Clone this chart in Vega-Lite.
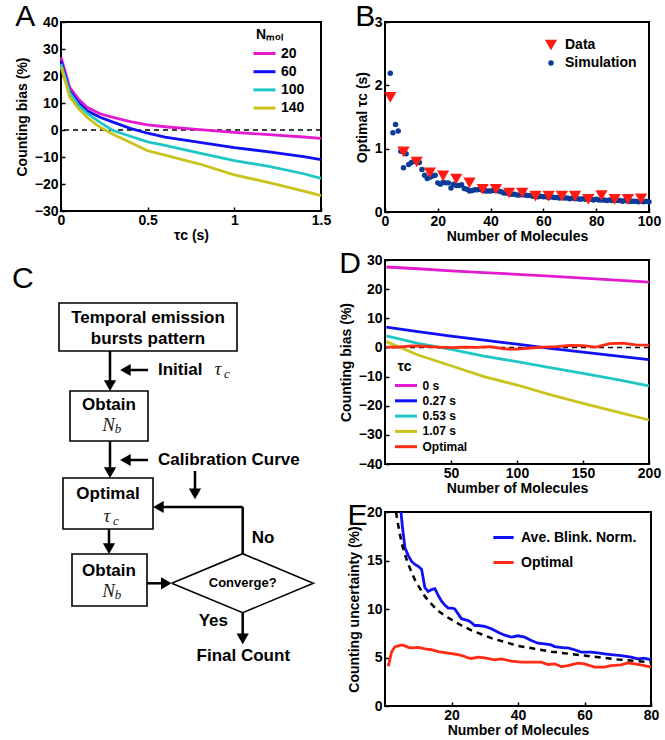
{
 "$schema": "https://vega.github.io/schema/vega-lite/v6.json",
 "background": "white",
 "padding": {"left": 12, "top": 1, "right": 4, "bottom": 0},
 "config": {
  "font": "Liberation Sans",
  "view": {"stroke": "black", "strokeWidth": 2},
  "axis": {"grid": false, "domain": false, "labelOverlap": false, "labelFont": "Liberation Sans", "labelFontSize": 14, "labelFontWeight": "bold", "labelColor": "black", "titleFont": "Liberation Sans", "titleFontSize": 14, "titleFontWeight": "bold", "titleColor": "black", "tickColor": "black", "tickSize": -4, "tickWidth": 1.5, "labelPadding": 7, "titlePadding": 4},
  "axisX": {"labelFlush": false, "titlePadding": 1, "labelPadding": 6},
  "axisY": {"titlePadding": 5},
  "legend": {"labelFont": "Liberation Sans", "labelFontSize": 14, "labelFontWeight": "bold", "labelColor": "black", "titleFont": "Liberation Sans", "titleFontSize": 14, "titleFontWeight": "bold", "titleColor": "black", "padding": 0, "labelOffset": 8, "titlePadding": 3, "rowPadding": 2.2},
  "title": {"anchor": "start", "frame": "bounds", "font": "Liberation Sans", "fontSize": 30, "fontWeight": "normal", "color": "black", "baseline": "top", "offset": -17}
 },
 "resolve": {"scale": {"color": "independent", "shape": "independent", "size": "independent"}},
 "datasets": {
  "A": [
   {"tau":0,"bias":27,"N":"20"},{"tau":0.05,"bias":15.8,"N":"20"},{"tau":0.1,"bias":11.5,"N":"20"},{"tau":0.15,"bias":8.4,"N":"20"},{"tau":0.225,"bias":6,"N":"20"},{"tau":0.3,"bias":4.7,"N":"20"},{"tau":0.4,"bias":3.1,"N":"20"},{"tau":0.5,"bias":1.9,"N":"20"},{"tau":0.6,"bias":1.2,"N":"20"},{"tau":0.8,"bias":0.1,"N":"20"},{"tau":1.0,"bias":-0.9,"N":"20"},{"tau":1.2,"bias":-1.7,"N":"20"},{"tau":1.4,"bias":-2.6,"N":"20"},{"tau":1.5,"bias":-3.1,"N":"20"},
   {"tau":0,"bias":25.5,"N":"60"},{"tau":0.05,"bias":14.5,"N":"60"},{"tau":0.1,"bias":10.2,"N":"60"},{"tau":0.15,"bias":7.1,"N":"60"},{"tau":0.225,"bias":4.7,"N":"60"},{"tau":0.3,"bias":2.9,"N":"60"},{"tau":0.4,"bias":0.6,"N":"60"},{"tau":0.5,"bias":-1.2,"N":"60"},{"tau":0.6,"bias":-2.6,"N":"60"},{"tau":0.8,"bias":-4.6,"N":"60"},{"tau":1.0,"bias":-6.5,"N":"60"},{"tau":1.2,"bias":-8.1,"N":"60"},{"tau":1.4,"bias":-9.9,"N":"60"},{"tau":1.5,"bias":-11,"N":"60"},
   {"tau":0,"bias":24.5,"N":"100"},{"tau":0.05,"bias":13.9,"N":"100"},{"tau":0.1,"bias":9.2,"N":"100"},{"tau":0.15,"bias":6.2,"N":"100"},{"tau":0.225,"bias":2.8,"N":"100"},{"tau":0.3,"bias":-0.2,"N":"100"},{"tau":0.4,"bias":-2.3,"N":"100"},{"tau":0.5,"bias":-4.4,"N":"100"},{"tau":0.6,"bias":-5.7,"N":"100"},{"tau":0.8,"bias":-8.6,"N":"100"},{"tau":1.0,"bias":-11.3,"N":"100"},{"tau":1.2,"bias":-13.5,"N":"100"},{"tau":1.4,"bias":-16.2,"N":"100"},{"tau":1.5,"bias":-17.9,"N":"100"},
   {"tau":0,"bias":23.5,"N":"140"},{"tau":0.05,"bias":12.3,"N":"140"},{"tau":0.1,"bias":8.0,"N":"140"},{"tau":0.15,"bias":4.7,"N":"140"},{"tau":0.225,"bias":1.0,"N":"140"},{"tau":0.3,"bias":-1.6,"N":"140"},{"tau":0.4,"bias":-4.6,"N":"140"},{"tau":0.5,"bias":-7.7,"N":"140"},{"tau":0.6,"bias":-9.3,"N":"140"},{"tau":0.8,"bias":-12.6,"N":"140"},{"tau":1.0,"bias":-16.6,"N":"140"},{"tau":1.2,"bias":-19.5,"N":"140"},{"tau":1.4,"bias":-22.6,"N":"140"},{"tau":1.5,"bias":-24.3,"N":"140"}
  ],
  "B": [
   {"n":2,"v":2.19,"s":"Simulation"},{"n":3,"v":1.25,"s":"Simulation"},{"n":4,"v":1.38,"s":"Simulation"},{"n":5,"v":1.28,"s":"Simulation"},{"n":6,"v":0.96,"s":"Simulation"},{"n":7,"v":0.70,"s":"Simulation"},{"n":8,"v":0.92,"s":"Simulation"},{"n":9,"v":0.75,"s":"Simulation"},{"n":10,"v":0.78,"s":"Simulation"},{"n":11,"v":0.80,"s":"Simulation"},{"n":12,"v":0.80,"s":"Simulation"},{"n":13,"v":0.78,"s":"Simulation"},{"n":14,"v":0.67,"s":"Simulation"},{"n":15,"v":0.58,"s":"Simulation"},{"n":16,"v":0.53,"s":"Simulation"},{"n":17,"v":0.55,"s":"Simulation"},{"n":18,"v":0.57,"s":"Simulation"},{"n":19,"v":0.58,"s":"Simulation"},{"n":20,"v":0.46,"s":"Simulation"},
   {"n":21,"v":0.44,"s":"Simulation"},{"n":22,"v":0.47,"s":"Simulation"},{"n":23,"v":0.46,"s":"Simulation"},{"n":24,"v":0.46,"s":"Simulation"},{"n":25,"v":0.38,"s":"Simulation"},{"n":26,"v":0.44,"s":"Simulation"},{"n":27,"v":0.42,"s":"Simulation"},{"n":28,"v":0.42,"s":"Simulation"},{"n":29,"v":0.43,"s":"Simulation"},{"n":30,"v":0.37,"s":"Simulation"},{"n":31,"v":0.36,"s":"Simulation"},{"n":32,"v":0.33,"s":"Simulation"},{"n":33,"v":0.34,"s":"Simulation"},{"n":34,"v":0.35,"s":"Simulation"},{"n":35,"v":0.35,"s":"Simulation"},{"n":36,"v":0.36,"s":"Simulation"},{"n":37,"v":0.34,"s":"Simulation"},{"n":38,"v":0.33,"s":"Simulation"},{"n":39,"v":0.33,"s":"Simulation"},{"n":40,"v":0.33,"s":"Simulation"},
   {"n":41,"v":0.34,"s":"Simulation"},{"n":42,"v":0.35,"s":"Simulation"},{"n":43,"v":0.33,"s":"Simulation"},{"n":44,"v":0.32,"s":"Simulation"},{"n":45,"v":0.30,"s":"Simulation"},{"n":46,"v":0.30,"s":"Simulation"},{"n":47,"v":0.29,"s":"Simulation"},{"n":48,"v":0.28,"s":"Simulation"},{"n":49,"v":0.28,"s":"Simulation"},{"n":50,"v":0.27,"s":"Simulation"},{"n":51,"v":0.27,"s":"Simulation"},{"n":52,"v":0.28,"s":"Simulation"},{"n":53,"v":0.27,"s":"Simulation"},{"n":54,"v":0.26,"s":"Simulation"},{"n":55,"v":0.26,"s":"Simulation"},{"n":56,"v":0.25,"s":"Simulation"},{"n":57,"v":0.25,"s":"Simulation"},{"n":58,"v":0.24,"s":"Simulation"},{"n":59,"v":0.25,"s":"Simulation"},{"n":60,"v":0.24,"s":"Simulation"},
   {"n":61,"v":0.24,"s":"Simulation"},{"n":62,"v":0.23,"s":"Simulation"},{"n":63,"v":0.24,"s":"Simulation"},{"n":64,"v":0.23,"s":"Simulation"},{"n":65,"v":0.23,"s":"Simulation"},{"n":66,"v":0.22,"s":"Simulation"},{"n":67,"v":0.23,"s":"Simulation"},{"n":68,"v":0.22,"s":"Simulation"},{"n":69,"v":0.22,"s":"Simulation"},{"n":70,"v":0.21,"s":"Simulation"},{"n":71,"v":0.22,"s":"Simulation"},{"n":72,"v":0.21,"s":"Simulation"},{"n":73,"v":0.21,"s":"Simulation"},{"n":74,"v":0.20,"s":"Simulation"},{"n":75,"v":0.21,"s":"Simulation"},{"n":76,"v":0.20,"s":"Simulation"},{"n":77,"v":0.20,"s":"Simulation"},{"n":78,"v":0.20,"s":"Simulation"},{"n":79,"v":0.19,"s":"Simulation"},{"n":80,"v":0.20,"s":"Simulation"},
   {"n":81,"v":0.19,"s":"Simulation"},{"n":82,"v":0.19,"s":"Simulation"},{"n":83,"v":0.19,"s":"Simulation"},{"n":84,"v":0.18,"s":"Simulation"},{"n":85,"v":0.19,"s":"Simulation"},{"n":86,"v":0.18,"s":"Simulation"},{"n":87,"v":0.18,"s":"Simulation"},{"n":88,"v":0.18,"s":"Simulation"},{"n":89,"v":0.18,"s":"Simulation"},{"n":90,"v":0.17,"s":"Simulation"},{"n":91,"v":0.18,"s":"Simulation"},{"n":92,"v":0.17,"s":"Simulation"},{"n":93,"v":0.17,"s":"Simulation"},{"n":94,"v":0.17,"s":"Simulation"},{"n":95,"v":0.17,"s":"Simulation"},{"n":96,"v":0.16,"s":"Simulation"},{"n":97,"v":0.17,"s":"Simulation"},{"n":98,"v":0.16,"s":"Simulation"},{"n":99,"v":0.17,"s":"Simulation"},{"n":100,"v":0.16,"s":"Simulation"},
   {"n":2,"v":1.81,"s":"Data"},{"n":7,"v":0.95,"s":"Data"},{"n":12,"v":0.79,"s":"Data"},{"n":17,"v":0.62,"s":"Data"},{"n":22,"v":0.57,"s":"Data"},{"n":27,"v":0.52,"s":"Data"},{"n":32,"v":0.46,"s":"Data"},{"n":37,"v":0.36,"s":"Data"},{"n":42,"v":0.36,"s":"Data"},{"n":47,"v":0.30,"s":"Data"},{"n":52,"v":0.30,"s":"Data"},{"n":57,"v":0.25,"s":"Data"},{"n":62,"v":0.25,"s":"Data"},{"n":67,"v":0.25,"s":"Data"},{"n":72,"v":0.25,"s":"Data"},{"n":77,"v":0.20,"s":"Data"},{"n":82,"v":0.26,"s":"Data"},{"n":87,"v":0.20,"s":"Data"},{"n":92,"v":0.20,"s":"Data"},{"n":97,"v":0.21,"s":"Data"}
  ],
  "D": [
   {"n":1,"bias":27.6,"s":"0 s"},{"n":25,"bias":27.0,"s":"0 s"},{"n":50,"bias":26.3,"s":"0 s"},{"n":75,"bias":25.7,"s":"0 s"},{"n":100,"bias":25.1,"s":"0 s"},{"n":125,"bias":24.5,"s":"0 s"},{"n":150,"bias":23.8,"s":"0 s"},{"n":175,"bias":23.1,"s":"0 s"},{"n":200,"bias":22.4,"s":"0 s"},
   {"n":1,"bias":7.0,"s":"0.27 s"},{"n":25,"bias":5.4,"s":"0.27 s"},{"n":50,"bias":3.9,"s":"0.27 s"},{"n":75,"bias":2.5,"s":"0.27 s"},{"n":100,"bias":1.1,"s":"0.27 s"},{"n":125,"bias":-0.3,"s":"0.27 s"},{"n":150,"bias":-1.6,"s":"0.27 s"},{"n":175,"bias":-2.9,"s":"0.27 s"},{"n":200,"bias":-4.2,"s":"0.27 s"},
   {"n":1,"bias":4.0,"s":"0.53 s"},{"n":25,"bias":1.4,"s":"0.53 s"},{"n":50,"bias":-0.7,"s":"0.53 s"},{"n":75,"bias":-3.0,"s":"0.53 s"},{"n":100,"bias":-4.9,"s":"0.53 s"},{"n":125,"bias":-6.9,"s":"0.53 s"},{"n":150,"bias":-8.9,"s":"0.53 s"},{"n":175,"bias":-11.0,"s":"0.53 s"},{"n":200,"bias":-13.2,"s":"0.53 s"},
   {"n":1,"bias":2.0,"s":"1.07 s"},{"n":25,"bias":-2.6,"s":"1.07 s"},{"n":50,"bias":-6.3,"s":"1.07 s"},{"n":75,"bias":-10.0,"s":"1.07 s"},{"n":100,"bias":-12.9,"s":"1.07 s"},{"n":125,"bias":-16.2,"s":"1.07 s"},{"n":150,"bias":-19.2,"s":"1.07 s"},{"n":175,"bias":-22.0,"s":"1.07 s"},{"n":200,"bias":-24.9,"s":"1.07 s"},
   {"n":1,"bias":0.1,"s":"Optimal"},{"n":10,"bias":0.1,"s":"Optimal"},{"n":20,"bias":0.5,"s":"Optimal"},{"n":30,"bias":0.4,"s":"Optimal"},{"n":40,"bias":0.1,"s":"Optimal"},{"n":50,"bias":-0.1,"s":"Optimal"},{"n":60,"bias":0.1,"s":"Optimal"},{"n":70,"bias":0.0,"s":"Optimal"},{"n":80,"bias":0.3,"s":"Optimal"},{"n":90,"bias":-0.5,"s":"Optimal"},{"n":100,"bias":-0.6,"s":"Optimal"},{"n":110,"bias":-0.2,"s":"Optimal"},{"n":120,"bias":0.1,"s":"Optimal"},{"n":130,"bias":0.3,"s":"Optimal"},{"n":140,"bias":0.7,"s":"Optimal"},{"n":150,"bias":0.6,"s":"Optimal"},{"n":160,"bias":0.1,"s":"Optimal"},{"n":170,"bias":1.3,"s":"Optimal"},{"n":180,"bias":1.5,"s":"Optimal"},{"n":190,"bias":0.9,"s":"Optimal"},{"n":200,"bias":0.8,"s":"Optimal"}
  ],
  "E": [
   {"n":4.8,"u":20,"s":"Ave. Blink. Norm."},{"n":5.2,"u":18.6,"s":"Ave. Blink. Norm."},{"n":6,"u":16.3,"s":"Ave. Blink. Norm."},{"n":7,"u":15.5,"s":"Ave. Blink. Norm."},{"n":8,"u":14.9,"s":"Ave. Blink. Norm."},{"n":9,"u":14.6,"s":"Ave. Blink. Norm."},{"n":10,"u":14.4,"s":"Ave. Blink. Norm."},{"n":11,"u":14.1,"s":"Ave. Blink. Norm."},{"n":12,"u":12.2,"s":"Ave. Blink. Norm."},{"n":13,"u":11.8,"s":"Ave. Blink. Norm."},{"n":14,"u":12.0,"s":"Ave. Blink. Norm."},{"n":15,"u":12.1,"s":"Ave. Blink. Norm."},{"n":16,"u":11.4,"s":"Ave. Blink. Norm."},{"n":17,"u":10.8,"s":"Ave. Blink. Norm."},{"n":18,"u":10.4,"s":"Ave. Blink. Norm."},{"n":19,"u":10.1,"s":"Ave. Blink. Norm."},{"n":20,"u":10.1,"s":"Ave. Blink. Norm."},{"n":21,"u":10.0,"s":"Ave. Blink. Norm."},{"n":22,"u":9.5,"s":"Ave. Blink. Norm."},{"n":23,"u":9.0,"s":"Ave. Blink. Norm."},{"n":24,"u":8.9,"s":"Ave. Blink. Norm."},{"n":25,"u":8.8,"s":"Ave. Blink. Norm."},{"n":26,"u":8.6,"s":"Ave. Blink. Norm."},{"n":27,"u":8.3,"s":"Ave. Blink. Norm."},{"n":28,"u":8.3,"s":"Ave. Blink. Norm."},{"n":30,"u":8.2,"s":"Ave. Blink. Norm."},{"n":32,"u":7.96,"s":"Ave. Blink. Norm."},{"n":34,"u":7.6,"s":"Ave. Blink. Norm."},{"n":36,"u":7.3,"s":"Ave. Blink. Norm."},{"n":38,"u":7.1,"s":"Ave. Blink. Norm."},{"n":40,"u":7.24,"s":"Ave. Blink. Norm."},{"n":42,"u":7.1,"s":"Ave. Blink. Norm."},{"n":44,"u":6.75,"s":"Ave. Blink. Norm."},{"n":46,"u":6.47,"s":"Ave. Blink. Norm."},{"n":48,"u":6.41,"s":"Ave. Blink. Norm."},{"n":50,"u":6.3,"s":"Ave. Blink. Norm."},{"n":51,"u":6.13,"s":"Ave. Blink. Norm."},{"n":54,"u":6.0,"s":"Ave. Blink. Norm."},{"n":55,"u":6.0,"s":"Ave. Blink. Norm."},{"n":57,"u":5.8,"s":"Ave. Blink. Norm."},{"n":59,"u":5.55,"s":"Ave. Blink. Norm."},{"n":62,"u":5.55,"s":"Ave. Blink. Norm."},{"n":64,"u":5.48,"s":"Ave. Blink. Norm."},{"n":66,"u":5.38,"s":"Ave. Blink. Norm."},{"n":68,"u":5.3,"s":"Ave. Blink. Norm."},{"n":71,"u":5.2,"s":"Ave. Blink. Norm."},{"n":74,"u":5.03,"s":"Ave. Blink. Norm."},{"n":76,"u":4.86,"s":"Ave. Blink. Norm."},{"n":78,"u":4.93,"s":"Ave. Blink. Norm."},{"n":80,"u":4.76,"s":"Ave. Blink. Norm."},
   {"n":1,"u":4.1,"s":"Optimal"},{"n":2,"u":5.6,"s":"Optimal"},{"n":3,"u":6.1,"s":"Optimal"},{"n":4,"u":6.2,"s":"Optimal"},{"n":5,"u":6.3,"s":"Optimal"},{"n":6,"u":6.2,"s":"Optimal"},{"n":7,"u":6.05,"s":"Optimal"},{"n":8,"u":6.0,"s":"Optimal"},{"n":10,"u":6.05,"s":"Optimal"},{"n":12,"u":5.9,"s":"Optimal"},{"n":14,"u":5.8,"s":"Optimal"},{"n":16,"u":5.6,"s":"Optimal"},{"n":18,"u":5.5,"s":"Optimal"},{"n":20,"u":5.4,"s":"Optimal"},{"n":22,"u":5.3,"s":"Optimal"},{"n":24,"u":5.1,"s":"Optimal"},{"n":25,"u":4.95,"s":"Optimal"},{"n":26,"u":4.9,"s":"Optimal"},{"n":28,"u":5.03,"s":"Optimal"},{"n":30,"u":4.97,"s":"Optimal"},{"n":33,"u":4.76,"s":"Optimal"},{"n":35,"u":4.86,"s":"Optimal"},{"n":38,"u":4.62,"s":"Optimal"},{"n":41,"u":4.52,"s":"Optimal"},{"n":44,"u":4.52,"s":"Optimal"},{"n":47,"u":4.52,"s":"Optimal"},{"n":49,"u":4.28,"s":"Optimal"},{"n":51,"u":4.35,"s":"Optimal"},{"n":53,"u":4.07,"s":"Optimal"},{"n":55,"u":4.17,"s":"Optimal"},{"n":58,"u":4.41,"s":"Optimal"},{"n":60,"u":4.35,"s":"Optimal"},{"n":63,"u":4.0,"s":"Optimal"},{"n":66,"u":4.0,"s":"Optimal"},{"n":68,"u":4.17,"s":"Optimal"},{"n":71,"u":4.24,"s":"Optimal"},{"n":73,"u":4.45,"s":"Optimal"},{"n":76,"u":4.28,"s":"Optimal"},{"n":78,"u":4.17,"s":"Optimal"},{"n":80,"u":4.0,"s":"Optimal"}
  ],
  "Edash": [
   {"n":3.3,"u":20},{"n":4,"u":18.6},{"n":5,"u":16.8},{"n":6,"u":15.6},{"n":7,"u":14.6},{"n":8,"u":13.8},{"n":9,"u":13.0},{"n":10,"u":12.4},{"n":12,"u":11.3},{"n":14,"u":10.5},{"n":16,"u":9.8},{"n":18,"u":9.3},{"n":20,"u":8.9},{"n":23,"u":8.3},{"n":26,"u":7.8},{"n":29,"u":7.4},{"n":32,"u":7.0},{"n":35,"u":6.7},{"n":40,"u":6.2},{"n":45,"u":5.9},{"n":50,"u":5.6},{"n":55,"u":5.4},{"n":60,"u":5.2},{"n":65,"u":5.0},{"n":70,"u":4.8},{"n":75,"u":4.65},{"n":80,"u":4.5}
  ],
  "cbox": [
   {"x":59,"x2":237,"y":302,"y2":350},{"x":70,"x2":148,"y":390,"y2":440},{"x":63,"x2":153,"y":477,"y2":528},{"x":72,"x2":147,"y":553,"y2":605}
  ],
  "cline": [
   {"x":110,"x2":110,"y":350,"y2":382},{"x":148,"x2":126,"y":369,"y2":369},{"x":110,"x2":110,"y":440,"y2":469},{"x":148,"x2":126,"y":459,"y2":459},{"x":195,"x2":195,"y":470,"y2":490},{"x":242.7,"x2":242.7,"y":552.7,"y2":506},{"x":242.7,"x2":160,"y":506,"y2":506},{"x":109,"x2":109,"y":528,"y2":545},{"x":147,"x2":166,"y":582.3,"y2":582.3},{"x":242.7,"x2":242.7,"y":611.7,"y2":636}
  ],
  "chead": [
   {"x":110,"y":384.6,"d":"down"},{"x":125.4,"y":369,"d":"left"},{"x":110,"y":471.6,"d":"down"},{"x":125.4,"y":459,"d":"left"},{"x":195,"y":492.9,"d":"down"},{"x":158.4,"y":506,"d":"left"},{"x":109,"y":547.6,"d":"down"},{"x":166.3,"y":582.3,"d":"right"},{"x":242.7,"y":637.9,"d":"down"}
  ],
  "cdiamond": [
   {"x":171.7,"y":582.3,"o":1},{"x":242.7,"y":552.7,"o":2},{"x":313.3,"y":582.3,"o":3},{"x":242.7,"y":611.7,"o":4},{"x":171.7,"y":582.3,"o":5}
  ],
  "ctext": [
   {"x":148,"y":317,"t":"Temporal emission","k":"b"},{"x":148,"y":338,"t":"bursts pattern","k":"b"},{"x":109,"y":404,"t":"Obtain","k":"b"},{"x":108,"y":493,"t":"Optimal","k":"b"},{"x":109,"y":570,"t":"Obtain","k":"b"},{"x":263,"y":537,"t":"No","k":"b"},{"x":213.3,"y":620,"t":"Yes","k":"b"},{"x":243.3,"y":655,"t":"Final Count","k":"b"},
   {"x":158,"y":369,"t":"Initial","k":"l"},{"x":158,"y":459,"t":"Calibration Curve","k":"l"},
   {"x":242.7,"y":582.3,"t":"Converge?","k":"s"},
   {"x":218,"y":368,"t":"τ","k":"m"},{"x":107,"y":515,"t":"τ","k":"m"},{"x":108.5,"y":424,"t":"N","k":"m"},{"x":108.5,"y":590,"t":"N","k":"m"},
   {"x":227,"y":373,"t":"c","k":"u"},{"x":116,"y":520,"t":"c","k":"u"},{"x":118,"y":428,"t":"b","k":"u"},{"x":118,"y":594,"t":"b","k":"u"},
   {"x":12,"y":278,"t":"C","k":"L"}
  ]
 },
 "spacing": 6,
 "hconcat": [
  {
   "spacing": 13,
   "resolve": {"scale": {"color": "independent", "shape": "independent", "size": "independent"}},
   "vconcat": [
    {
     "title": {"text": "A"},
     "width": 260, "height": 189,
     "layer": [
      {"data": {"values": [{}]}, "mark": {"type": "rule", "strokeDash": [5, 4], "strokeWidth": 1.5, "color": "black"}, "encoding": {"y": {"datum": 0, "type": "quantitative", "axis": {"values": [-30, -20, -10, 0, 10, 20, 30, 40], "title": "Counting bias (%)", "labelOverlap": false}}}},
      {"data": {"name": "A"}, "mark": {"type": "line", "strokeWidth": 2.8},
       "encoding": {
        "x": {"field": "tau", "type": "quantitative", "scale": {"domain": [0, 1.5], "nice": false}, "axis": {"values": [0, 0.5, 1, 1.5], "format": "~g", "title": "τc (s)", "labelOverlap": false}},
        "y": {"field": "bias", "type": "quantitative", "scale": {"domain": [-30, 40], "nice": false}, "axis": {"values": [-30, -20, -10, 0, 10, 20, 30, 40], "title": "Counting bias (%)", "labelOverlap": false}},
        "color": {"field": "N", "type": "nominal", "scale": {"domain": ["20", "60", "100", "140"], "range": ["#e31bd0", "#1010f5", "#20c6c6", "#c9c31c"]},
         "legend": {"title": "Nₘₒₗ", "orient": "none", "legendX": 195, "legendY": 6, "symbolType": "M-1.57,0H1.57", "symbolSize": 196, "symbolStrokeWidth": 3}}
       }}
     ]
    },
    {
     "width": 260, "height": 445,
     "view": {"stroke": null},
     "encoding": {
      "x": {"field": "x", "type": "quantitative", "scale": {"domain": [61, 321], "nice": false, "zero": false}, "axis": null},
      "y": {"field": "y", "type": "quantitative", "scale": {"domain": [255, 700], "nice": false, "zero": false, "reverse": true}, "axis": null}
     },
     "layer": [
      {"data": {"name": "cbox"}, "mark": {"type": "rect", "fill": "white", "stroke": "black", "strokeWidth": 1.6}, "encoding": {"x2": {"field": "x2"}, "y2": {"field": "y2"}}},
      {"data": {"name": "cline"}, "mark": {"type": "rule", "strokeWidth": 2.5, "color": "black"}, "encoding": {"x2": {"field": "x2"}, "y2": {"field": "y2"}}},
      {"data": {"name": "cdiamond"}, "mark": {"type": "line", "strokeWidth": 1.6, "color": "black"}, "encoding": {"order": {"field": "o", "type": "quantitative"}}},
      {"data": {"name": "chead"}, "mark": {"type": "point", "filled": true, "color": "black", "opacity": 1, "size": 150}, "encoding": {"shape": {"field": "d", "type": "nominal", "scale": {"domain": ["down", "left", "right"], "range": ["triangle-down", "triangle-left", "triangle-right"]}, "legend": null}}},
      {"data": {"name": "ctext"}, "transform": [{"filter": "datum.k == 'b'"}], "mark": {"type": "text", "font": "Liberation Sans", "fontSize": 17, "fontWeight": "bold", "align": "center", "baseline": "middle", "color": "black"}, "encoding": {"text": {"field": "t"}}},
      {"data": {"name": "ctext"}, "transform": [{"filter": "datum.k == 'l'"}], "mark": {"type": "text", "font": "Liberation Sans", "fontSize": 17, "fontWeight": "bold", "align": "left", "baseline": "middle", "color": "black"}, "encoding": {"text": {"field": "t"}}},
      {"data": {"name": "ctext"}, "transform": [{"filter": "datum.k == 's'"}], "mark": {"type": "text", "font": "Liberation Sans", "fontSize": 13, "fontWeight": "bold", "align": "center", "baseline": "middle", "color": "black"}, "encoding": {"text": {"field": "t"}}},
      {"data": {"name": "ctext"}, "transform": [{"filter": "datum.k == 'm'"}], "mark": {"type": "text", "font": "Liberation Serif", "fontSize": 19, "fontStyle": "italic", "align": "center", "baseline": "middle", "color": "#222"}, "encoding": {"text": {"field": "t"}}},
      {"data": {"name": "ctext"}, "transform": [{"filter": "datum.k == 'u'"}], "mark": {"type": "text", "font": "Liberation Serif", "fontSize": 13, "fontStyle": "italic", "align": "center", "baseline": "middle", "color": "#222"}, "encoding": {"text": {"field": "t"}}},
      {"data": {"name": "ctext"}, "transform": [{"filter": "datum.k == 'L'"}], "mark": {"type": "text", "font": "Liberation Sans", "fontSize": 30, "align": "left", "baseline": "middle", "color": "black"}, "encoding": {"text": {"field": "t"}}}
     ]
    }
   ]
  },
  {
   "spacing": 4,
   "resolve": {"scale": {"color": "independent", "shape": "independent", "size": "independent"}},
   "vconcat": [
    {
     "title": {"text": "B"},
     "width": 264, "height": 190,
     "data": {"name": "B"},
     "mark": {"type": "point", "filled": true, "opacity": 1},
     "encoding": {
      "x": {"field": "n", "type": "quantitative", "scale": {"domain": [0, 100], "nice": false}, "axis": {"values": [0, 20, 40, 60, 80, 100], "title": "Number of Molecules", "labelOverlap": false}},
      "y": {"field": "v", "type": "quantitative", "scale": {"domain": [0, 3], "nice": false}, "axis": {"values": [0, 1, 2, 3], "title": "Optimal  τc (s)", "labelOverlap": false}},
      "color": {"field": "s", "type": "nominal", "scale": {"domain": ["Data", "Simulation"], "range": ["#ff1a14", "#0b3b96"]}, "legend": {"title": null, "orient": "none", "legendX": 159, "legendY": 16, "labelOffset": 7, "rowPadding": 4}},
      "shape": {"field": "s", "type": "nominal", "scale": {"domain": ["Data", "Simulation"], "range": ["triangle-down", "circle"]}, "legend": {"title": null, "orient": "none", "legendX": 159, "legendY": 16, "labelOffset": 7, "rowPadding": 4}},
      "size": {"field": "s", "type": "nominal", "scale": {"domain": ["Data", "Simulation"], "range": [150, 30]}, "legend": {"title": null, "orient": "none", "legendX": 159, "legendY": 16, "labelOffset": 7, "rowPadding": 4}}
     }
    },
    {
     "title": {"text": "D", "offset": -26},
     "width": 264, "height": 204,
     "layer": [
      {"data": {"values": [{}]}, "mark": {"type": "rule", "strokeDash": [5, 4], "strokeWidth": 1.5, "color": "black"}, "encoding": {"y": {"datum": 0, "type": "quantitative", "axis": {"values": [-40, -30, -20, -10, 0, 10, 20, 30], "title": "Counting bias (%)", "labelOverlap": false}}}},
      {"data": {"name": "D"}, "mark": {"type": "line", "strokeWidth": 2.8},
       "encoding": {
        "x": {"field": "n", "type": "quantitative", "scale": {"domain": [0, 200], "nice": false}, "axis": {"values": [50, 100, 150, 200], "title": "Number of Molecules", "labelOverlap": false}},
        "y": {"field": "bias", "type": "quantitative", "scale": {"domain": [-40, 30], "nice": false}, "axis": {"values": [-40, -30, -20, -10, 0, 10, 20, 30], "title": "Counting bias (%)", "labelOverlap": false}},
        "color": {"field": "s", "type": "nominal", "scale": {"domain": ["0 s", "0.27 s", "0.53 s", "1.07 s", "Optimal"], "range": ["#e31bd0", "#1010f5", "#20c6c6", "#c9c31c", "#ff2b14"]},
         "legend": {"title": "τc", "orient": "none", "legendX": 12.5, "legendY": 100, "labelFontSize": 12, "rowPadding": 0.3, "symbolType": "M-1.57,0H1.57", "symbolSize": 196, "symbolStrokeWidth": 3}}
       }}
     ]
    },
    {
     "title": {"text": "E", "offset": -26},
     "width": 266, "height": 194,
     "layer": [
      {"data": {"name": "E"}, "mark": {"type": "line", "strokeWidth": 2.8},
       "encoding": {
        "x": {"field": "n", "type": "quantitative", "scale": {"domain": [0, 80], "nice": false}, "axis": {"values": [20, 40, 60, 80], "title": "Number of Molecules", "labelOverlap": false}},
        "y": {"field": "u", "type": "quantitative", "scale": {"domain": [0, 20], "nice": false}, "axis": {"values": [0, 5, 10, 15, 20], "title": "Counting uncertainty (%)", "labelOverlap": false}},
        "color": {"field": "s", "type": "nominal", "scale": {"domain": ["Ave. Blink. Norm.", "Optimal"], "range": ["#1010f5", "#ff2b14"]},
         "legend": {"title": null, "orient": "none", "legendX": 110, "legendY": 17, "rowPadding": 9, "labelOffset": 9, "symbolType": "M-1.45,0H1.45", "symbolSize": 196, "symbolStrokeWidth": 3}}
       }},
      {"data": {"name": "Edash"}, "mark": {"type": "line", "strokeWidth": 2.5, "strokeDash": [6, 5], "color": "black"},
       "encoding": {"x": {"field": "n", "type": "quantitative"}, "y": {"field": "u", "type": "quantitative"}}}
     ]
    }
   ]
  }
 ]
}
